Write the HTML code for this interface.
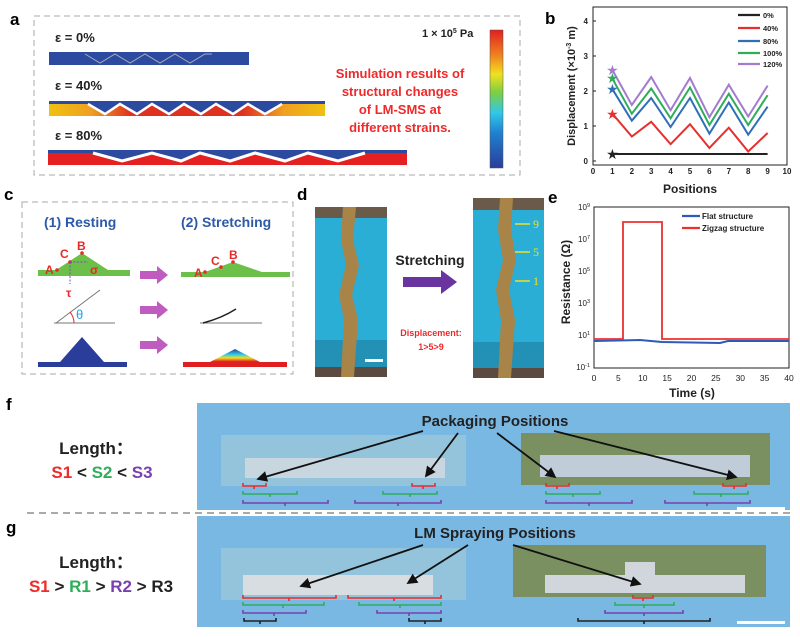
<!DOCTYPE html>
<html><head><meta charset="utf-8"><style>
html,body{margin:0;padding:0;background:#fff}
svg{display:block;font-family:"Liberation Sans",Arial,sans-serif}
</style></head><body>
<svg width="800" height="637" viewBox="0 0 800 637" xmlns="http://www.w3.org/2000/svg">
<defs>
<linearGradient id="cb" x1="0" y1="1" x2="0" y2="0">
<stop offset="0" stop-color="#2b3d9a"/><stop offset="0.25" stop-color="#1f7fd0"/><stop offset="0.4" stop-color="#30c8e8"/><stop offset="0.55" stop-color="#7fcf40"/><stop offset="0.68" stop-color="#f0e020"/><stop offset="0.82" stop-color="#f08020"/><stop offset="1" stop-color="#e02020"/></linearGradient>
<linearGradient id="yel" x1="0" y1="0" x2="1" y2="0"><stop offset="0" stop-color="#f0c010"/><stop offset="0.15" stop-color="#f0a020"/><stop offset="0.3" stop-color="#e03020"/><stop offset="0.7" stop-color="#e03020"/><stop offset="0.85" stop-color="#f0a020"/><stop offset="1" stop-color="#f0c010"/></linearGradient>
<linearGradient id="tri" x1="0" y1="0" x2="0" y2="1"><stop offset="0" stop-color="#2b3d9a"/><stop offset="0.3" stop-color="#30c8e8"/><stop offset="0.5" stop-color="#f0e020"/><stop offset="0.7" stop-color="#e02020"/></linearGradient>
<marker id="ah" markerWidth="6" markerHeight="6" refX="5" refY="3" orient="auto"><path d="M0,0L6,3L0,6z" fill="#111"/></marker>
</defs>

<!-- Panel a -->
<text x="10" y="25" font-size="17" font-weight="bold">a</text>
<rect x="34" y="16" width="486" height="159" fill="none" stroke="#aaa" stroke-dasharray="6,4"/>
<text x="55" y="42" font-size="13" font-weight="bold" fill="#222">ε = 0%</text>
<rect x="49" y="52" width="200" height="13" fill="#2b4aa0"/>
<polyline points="85,54 100,63 115,54 130,63 145,54 160,63 175,54 190,63 205,54 212,54" fill="none" stroke="#aab" stroke-width="1"/>
<text x="55" y="90" font-size="13" font-weight="bold" fill="#222">ε = 40%</text>
<rect x="49" y="101" width="276" height="15" fill="url(#yel)"/>
<rect x="49" y="101" width="276" height="3" fill="#2b4aa0"/>
<polyline points="88,104 105,114 120,104 137,114 152,104 169,114 184,104 201,114 216,104 233,114 248,104 265,114 282,104" fill="#2b4aa0" stroke="#fff" stroke-width="2.5"/>
<text x="55" y="140" font-size="13" font-weight="bold" fill="#222">ε = 80%</text>
<rect x="48" y="150" width="359" height="15" fill="#e52020"/>
<rect x="48" y="150" width="359" height="3" fill="#2b4aa0"/>
<polyline points="93,153 122,161 152,153 181,161 200,153 230,161 255,153 285,161 308,153 338,161 365,153" fill="#2b4aa0" stroke="#fff" stroke-width="3"/>
<text x="422" y="37" font-size="11" font-weight="bold" fill="#222">1 × 10<tspan font-size="7" dy="-4">5</tspan><tspan dy="4"> Pa</tspan></text>
<rect x="490" y="30" width="13" height="138" fill="url(#cb)" stroke="#555" stroke-width="0.5"/>
<g font-size="13" font-weight="bold" fill="#ee2a2a" text-anchor="middle">
<text x="400" y="78">Simulation results of</text>
<text x="400" y="96">structural changes</text>
<text x="400" y="114">of LM-SMS at</text>
<text x="400" y="132">different strains.</text></g>

<!-- Panel b -->
<text x="545" y="24" font-size="17" font-weight="bold">b</text>
<rect x="593" y="7" width="194" height="158" fill="none" stroke="#222" stroke-width="1"/>
<g font-size="8" font-weight="bold" fill="#222" text-anchor="middle">
<text x="593" y="174">0</text><text x="612.4" y="174">1</text><text x="631.8" y="174">2</text><text x="651.2" y="174">3</text><text x="670.6" y="174">4</text><text x="690" y="174">5</text><text x="709.4" y="174">6</text><text x="728.8" y="174">7</text><text x="748.2" y="174">8</text><text x="767.6" y="174">9</text><text x="787" y="174">10</text>
<text x="588" y="164" text-anchor="end">0</text><text x="588" y="129" text-anchor="end">1</text><text x="588" y="94" text-anchor="end">2</text><text x="588" y="59" text-anchor="end">3</text><text x="588" y="24" text-anchor="end">4</text></g>
<g stroke="#222"><line x1="593" y1="161" x2="596" y2="161"/><line x1="593" y1="126" x2="596" y2="126"/><line x1="593" y1="91" x2="596" y2="91"/><line x1="593" y1="56" x2="596" y2="56"/><line x1="593" y1="21" x2="596" y2="21"/></g>
<text x="690" y="193" font-size="12" font-weight="bold" text-anchor="middle" fill="#222">Positions</text>
<text transform="translate(575,86) rotate(-90)" font-size="11" font-weight="bold" text-anchor="middle" fill="#222">Displacement (×10<tspan font-size="7" dy="-4">-3</tspan><tspan dy="4"> m)</tspan></text>
<g fill="none" stroke-width="2">
<polyline stroke="#222" points="612.4,154 767.6,154"/>
<polyline stroke="#e63030" points="612.4,113.7 631.8,136.5 651.2,121.8 670.6,144.2 690,124.2 709.4,148 728.8,127.7 748.2,151.5 767.6,133"/>
<polyline stroke="#2f6fb8" points="612.4,89.2 631.8,120.7 651.2,98 670.6,127 690,98 709.4,133.7 728.8,102.5 748.2,134.7 767.6,106.7"/>
<polyline stroke="#2fae5a" points="612.4,78.7 631.8,113.7 651.2,88.5 670.6,118.3 690,87.5 709.4,125 728.8,93.8 748.2,125 767.6,95.2"/>
<polyline stroke="#a47bd0" points="612.4,70 631.8,105 651.2,77 670.6,110.2 690,78 709.4,117.2 728.8,84.7 748.2,116.5 767.6,85.7"/>
</g>
<g font-size="14">
<text x="612.4" y="159" text-anchor="middle" fill="#222">★</text>
<text x="612.4" y="119" text-anchor="middle" fill="#e63030">★</text>
<text x="612.4" y="94" text-anchor="middle" fill="#2f6fb8">★</text>
<text x="612.4" y="83" text-anchor="middle" fill="#2fae5a">★</text>
<text x="612.4" y="75" text-anchor="middle" fill="#a47bd0">★</text></g>
<g stroke-width="2.2"><line x1="738" y1="15" x2="760" y2="15" stroke="#222"/><line x1="738" y1="28" x2="760" y2="28" stroke="#e63030"/><line x1="738" y1="41" x2="760" y2="41" stroke="#2f6fb8"/><line x1="738" y1="53" x2="760" y2="53" stroke="#2fae5a"/><line x1="738" y1="64" x2="760" y2="64" stroke="#a47bd0"/></g>
<g font-size="7.5" font-weight="bold" fill="#222"><text x="763" y="18">0%</text><text x="763" y="31">40%</text><text x="763" y="44">80%</text><text x="763" y="56">100%</text><text x="763" y="67">120%</text></g>

<!-- Panel c -->
<text x="4" y="200" font-size="17" font-weight="bold">c</text>
<rect x="22" y="202" width="271" height="172" fill="none" stroke="#aaa" stroke-dasharray="6,4"/>
<text x="44" y="227" font-size="14" font-weight="bold" fill="#2d5aa8">(1) Resting</text>
<text x="181" y="227" font-size="14" font-weight="bold" fill="#2d5aa8">(2) Stretching</text>
<polygon points="38,270 56,270 82,253 108,270 130,270 130,276 38,276" fill="#6cc04a"/>
<polygon points="181,272 205,272 233,262 262,272 290,272 290,277 181,277" fill="#6cc04a"/>
<g fill="#e52a2a"><circle cx="82" cy="253" r="1.8"/><circle cx="70" cy="262" r="1.8"/><circle cx="57" cy="270" r="1.8"/><circle cx="233" cy="262" r="1.8"/><circle cx="221" cy="267" r="1.8"/><circle cx="205" cy="272" r="1.8"/></g>
<g font-size="12" font-weight="bold" fill="#e52a2a"><text x="77" y="250">B</text><text x="60" y="258">C</text><text x="45" y="274">A</text><text x="90" y="274">σ</text><text x="229" y="259">B</text><text x="211" y="265">C</text><text x="194" y="277">A</text><text x="66" y="297">τ</text></g>
<line x1="70" y1="262" x2="70" y2="284" stroke="#7a4ac0" stroke-dasharray="2,1.5"/><line x1="70" y1="262" x2="88" y2="262" stroke="#7a4ac0" stroke-dasharray="2,1.5"/>
<g fill="#c05cc0"><polygon points="140,271 157,271 157,266 168,275 157,284 157,279 140,279"/><polygon points="140,306 157,306 157,301 168,310 157,319 157,314 140,314"/><polygon points="140,341 157,341 157,336 168,345 157,354 157,349 140,349"/></g>
<line x1="54" y1="323" x2="115" y2="323" stroke="#777"/><line x1="56" y1="323" x2="100" y2="290" stroke="#777"/>
<path d="M74,323 A18,18 0 0,0 70,312" fill="none" stroke="#e52a2a"/>
<text x="76" y="319" font-size="13" fill="#2aa0e0">θ</text>
<line x1="200" y1="323" x2="262" y2="323" stroke="#777"/><path d="M203,323 Q222,318 236,309" fill="none" stroke="#222" stroke-width="1.5"/>
<polygon points="38,362 60,362 82,337 104,362 127,362 127,367 38,367" fill="#2b3d9a"/>
<polygon points="183,362 210,362 235,349 260,362 287,362 287,367 183,367" fill="url(#tri)"/>
<rect x="183" y="362" width="104" height="5" fill="#e02020"/>

<!-- Panel d -->
<text x="297" y="200" font-size="17" font-weight="bold">d</text>
<rect x="315" y="207" width="72" height="170" fill="#2aaed5"/>
<rect x="315" y="207" width="72" height="11" fill="#6a5a4a"/>
<rect x="315" y="340" width="72" height="27" fill="#2390b5"/>
<rect x="315" y="367" width="72" height="10" fill="#5a4a40"/>
<path d="M343,207 L356,207 L353,240 L359,265 L352,295 L358,320 L354,377 L341,377 L344,320 L339,295 L346,265 L341,240z" fill="#a88448"/>
<rect x="365" y="359" width="18" height="3" fill="#fff"/>
<rect x="473" y="198" width="71" height="180" fill="#2aaed5"/>
<rect x="473" y="198" width="71" height="12" fill="#6a5a4a"/>
<rect x="473" y="342" width="71" height="26" fill="#2390b5"/>
<rect x="473" y="368" width="71" height="10" fill="#5a4a40"/>
<path d="M500,198 L513,198 L511,230 L516,260 L509,290 L515,320 L511,378 L498,378 L501,320 L496,290 L503,260 L498,230z" fill="#a88448"/>
<g fill="#f0e020" font-size="12" font-family="Liberation Serif,serif"><text x="533" y="228">9</text><text x="533" y="256">5</text><text x="533" y="285">1</text></g>
<g stroke="#f0e020" stroke-width="1.5"><line x1="515" y1="224" x2="530" y2="224"/><line x1="515" y1="252" x2="530" y2="252"/><line x1="515" y1="281" x2="530" y2="281"/></g>
<text x="430" y="265" font-size="14" font-weight="bold" text-anchor="middle" fill="#222">Stretching</text>
<polygon points="403,277 441,277 441,270 457,282 441,294 441,287 403,287" fill="#6a34a0"/>
<text x="431" y="336" font-size="9" font-weight="bold" text-anchor="middle" fill="#ee2a2a">Displacement:</text>
<text x="431" y="350" font-size="9" font-weight="bold" text-anchor="middle" fill="#ee2a2a">1&gt;5&gt;9</text>

<!-- Panel e -->
<text x="548" y="203" font-size="17" font-weight="bold">e</text>
<rect x="594" y="207" width="195" height="161" fill="none" stroke="#222"/>
<g font-size="8" fill="#222" text-anchor="end"><text x="590" y="210">10<tspan font-size="5.5" dy="-3">9</tspan></text><text x="590" y="242">10<tspan font-size="5.5" dy="-3">7</tspan></text><text x="590" y="274">10<tspan font-size="5.5" dy="-3">5</tspan></text><text x="590" y="306">10<tspan font-size="5.5" dy="-3">3</tspan></text><text x="590" y="338">10<tspan font-size="5.5" dy="-3">1</tspan></text><text x="590" y="370">10<tspan font-size="5.5" dy="-3">-1</tspan></text></g>
<g font-size="8.5" fill="#222" text-anchor="middle"><text x="594" y="381">0</text><text x="618.4" y="381">5</text><text x="642.8" y="381">10</text><text x="667.1" y="381">15</text><text x="691.5" y="381">20</text><text x="715.9" y="381">25</text><text x="740.3" y="381">30</text><text x="764.6" y="381">35</text><text x="789" y="381">40</text></g>
<text x="692" y="397" font-size="12" font-weight="bold" text-anchor="middle" fill="#222">Time (s)</text>
<text transform="translate(570,282) rotate(-90)" font-size="12" font-weight="bold" text-anchor="middle" fill="#222">Resistance (Ω)</text>
<polyline points="594,341 640,340 662,342 720,343 728,341 789,341" fill="none" stroke="#2f5ab8" stroke-width="2"/>
<polyline points="594,339 623,339 623,222 662,222 662,339 789,339" fill="none" stroke="#ee3030" stroke-width="1.8"/>
<line x1="682" y1="216" x2="700" y2="216" stroke="#2f5ab8" stroke-width="2.2"/><line x1="682" y1="228" x2="700" y2="228" stroke="#ee3030" stroke-width="2.2"/>
<g font-size="8" font-weight="bold" fill="#222"><text x="702" y="219">Flat structure</text><text x="702" y="231">Zigzag structure</text></g>

<!-- Panel f -->
<text x="6" y="410" font-size="17" font-weight="bold">f</text>
<text x="96" y="454" font-size="17" font-weight="bold" text-anchor="middle" fill="#222">Length：</text>
<text x="102" y="478" font-size="17" font-weight="bold" text-anchor="middle"><tspan fill="#ee2a2a">S1</tspan><tspan fill="#222"> &lt; </tspan><tspan fill="#2fae5a">S2</tspan><tspan fill="#222"> &lt; </tspan><tspan fill="#7a40b0">S3</tspan></text>
<rect x="197" y="403" width="593" height="107" fill="#7ab8e4"/>
<rect x="221" y="435" width="245" height="51" fill="#93c4dc"/>
<rect x="521" y="433" width="249" height="52" fill="#7a9060"/>
<rect x="245" y="458" width="200" height="20" fill="#c8d6e0"/>
<rect x="540" y="455" width="210" height="22" fill="#c0ccd8"/>
<text x="495" y="426" font-size="15" font-weight="bold" text-anchor="middle" fill="#222">Packaging Positions</text>
<g stroke="#111" stroke-width="1.8" marker-end="url(#ah)"><line x1="423" y1="431" x2="258" y2="479"/><line x1="458" y1="433" x2="426" y2="476"/><line x1="497" y1="433" x2="555" y2="477"/><line x1="554" y1="431" x2="736" y2="477"/></g>
<g fill="none" stroke-width="1.6">
<path d="M243,483v3h23v-3M254,486v3" stroke="#ee2a2a"/><path d="M412,483v3h23v-3M423,486v3" stroke="#ee2a2a"/><path d="M546,483v3h23v-3M557,486v3" stroke="#ee2a2a"/><path d="M723,483v3h23v-3M734,486v3" stroke="#ee2a2a"/>
<path d="M243,491v3h54v-3M270,494v3" stroke="#2fae5a"/><path d="M383,491v3h54v-3M410,494v3" stroke="#2fae5a"/><path d="M546,491v3h54v-3M573,494v3" stroke="#2fae5a"/><path d="M694,491v3h54v-3M721,494v3" stroke="#2fae5a"/>
<path d="M243,500v3h85v-3M285,503v3" stroke="#7a40b0"/><path d="M355,500v3h86v-3M398,503v3" stroke="#7a40b0"/><path d="M546,500v3h86v-3M589,503v3" stroke="#7a40b0"/><path d="M665,500v3h85v-3M707,503v3" stroke="#7a40b0"/></g>
<rect x="737" y="507" width="48" height="3" fill="#fff"/>
<line x1="27" y1="513" x2="790" y2="513" stroke="#aaa" stroke-width="2" stroke-dasharray="7,5"/>

<!-- Panel g -->
<text x="6" y="533" font-size="17" font-weight="bold">g</text>
<text x="96" y="568" font-size="17" font-weight="bold" text-anchor="middle" fill="#222">Length：</text>
<text x="101" y="592" font-size="17" font-weight="bold" text-anchor="middle"><tspan fill="#ee2a2a">S1</tspan><tspan fill="#222"> &gt; </tspan><tspan fill="#2fae5a">R1</tspan><tspan fill="#222"> &gt; </tspan><tspan fill="#7a40b0">R2</tspan><tspan fill="#222"> &gt; R3</tspan></text>
<rect x="197" y="516" width="593" height="111" fill="#7ab8e4"/>
<rect x="221" y="548" width="245" height="52" fill="#93c4dc"/>
<rect x="513" y="545" width="253" height="52" fill="#7a9060"/>
<rect x="243" y="575" width="190" height="20" fill="#d8dde2"/>
<rect x="545" y="575" width="200" height="18" fill="#d0d6dc"/><rect x="625" y="562" width="30" height="30" fill="#d0d6dc"/>
<text x="495" y="538" font-size="15" font-weight="bold" text-anchor="middle" fill="#222">LM Spraying Positions</text>
<g stroke="#111" stroke-width="1.8" marker-end="url(#ah)"><line x1="423" y1="545" x2="301" y2="586"/><line x1="468" y1="545" x2="408" y2="583"/><line x1="513" y1="545" x2="640" y2="584"/></g>
<g fill="none" stroke-width="1.6">
<path d="M243,595v3h93v-3M289,598v3" stroke="#ee2a2a"/><path d="M348,595v3h93v-3M394,598v3" stroke="#ee2a2a"/><path d="M633,595v3h20v-3M643,598v3" stroke="#ee2a2a"/>
<path d="M243,602v3h81v-3M283,605v3" stroke="#2fae5a"/><path d="M359,602v3h82v-3M400,605v3" stroke="#2fae5a"/><path d="M615,602v3h59v-3M644,605v3" stroke="#2fae5a"/>
<path d="M243,610v3h63v-3M274,613v3" stroke="#7a40b0"/><path d="M377,610v3h64v-3M409,613v3" stroke="#7a40b0"/><path d="M605,610v3h78v-3M644,613v3" stroke="#7a40b0"/>
<path d="M244,618v3h32v-3M260,621v3" stroke="#222"/><path d="M409,618v3h32v-3M425,621v3" stroke="#222"/><path d="M578,618v3h132v-3M644,621v3" stroke="#222"/></g>
<rect x="737" y="621" width="48" height="3" fill="#fff"/>
</svg>
</body></html>
